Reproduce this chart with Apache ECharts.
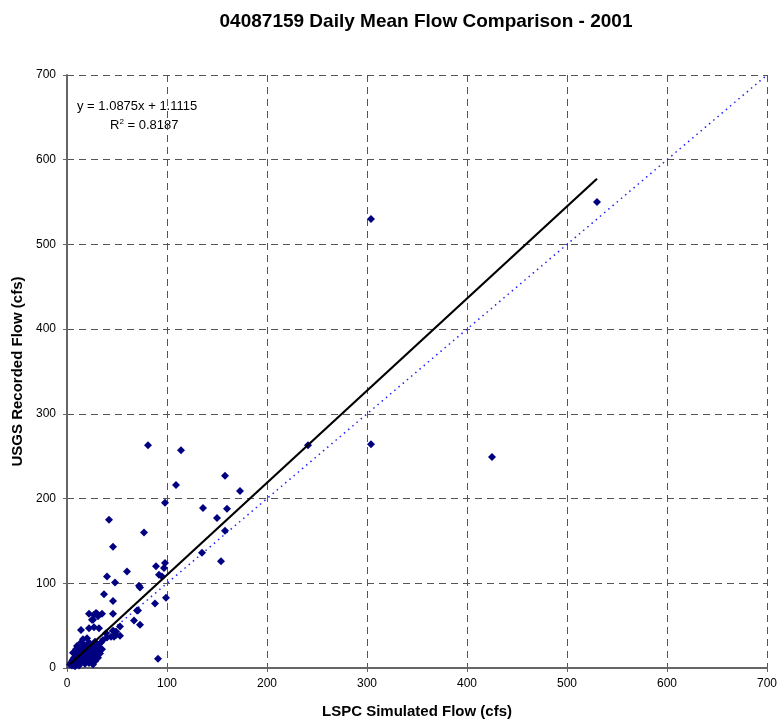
<!DOCTYPE html>
<html>
<head>
<meta charset="utf-8">
<script src="https://cdn.jsdelivr.net/npm/echarts@6/dist/echarts.min.js"></script>
<style>
  html, body { margin: 0; padding: 0; background: #fff; }
  #chart { width: 781px; height: 725px; }
</style>
</head>
<body>
<div id="chart"></div>
<script>
// Daily mean flow pairs: [LSPC simulated (cfs), USGS recorded (cfs)]
const lowFlowPairs = [
  [3,4],[4,6],[5,3],[5,8],[6,5],[6,10],[7,7],[7,12],[8,4],[8,9],[9,6],[9,14],
  [10,8],[10,11],[10,18],[11,5],[11,13],[12,9],[12,16],[12,22],[13,7],[13,11],
  [14,14],[14,19],[15,9],[15,25],[16,12],[16,17],[17,8],[17,21],[18,14],[18,27],
  [19,10],[19,18],[20,15],[20,24],[21,8],[21,12],[22,19],[22,30],[23,11],[23,16],
  [24,22],[24,9],[25,14],[25,26],[26,18],[27,12],[27,23],[28,8],[28,31],[29,15],
  [30,20],[30,27],[31,12],[32,24],[33,17],[34,30],[35,22],[36,33],[8,2],[12,3],
  [18,5],[22,6],[26,4],[10,26],[14,30],[16,34],[20,35],[6,18],[9,22]
];
const midFlowPairs = [
  [14,45],[22,47],[27,48],[32,47],[39,41],[49,43],[44,37],[49,39],[40,36],[46,44],
  [47,37],[53,38],[53,49],[26,57],[25,57],[22,64],[27,63],[31,61],[29,65],[35,64],
  [46,64],[30,64],[67,56],[73,51],[71,68],[70,68],[88,76],[99,83],[91,11],[46,79],
  [37,87],[48,101],[40,108],[60,114],[73,95],[72,97],[89,120],[98,124],[97,118],
  [92,110],[95,108],[42,175],[46,143],[77,160],[135,136],[154,126],[158,162],
  [150,177],[160,188],[136,189],[98,195],[109,216],[173,209],[158,227],[81,263],
  [114,257]
];
const highFlowPairs = [
  [241,263],[304,264],[425,249],[304,530],[530,550]
];

// Linear fit reported for the data set
const fitSlope = 1.0875;
const fitIntercept = 1.1115;
const fitR2 = 0.8187;
const fitRange = [3, 530];

const axisTicks = [0, 100, 200, 300, 400, 500, 600, 700];

const allPairs = lowFlowPairs.concat(midFlowPairs, highFlowPairs);
const fitLine = fitRange.map(x => [x, fitSlope * x + fitIntercept]);
const lo = axisTicks[0], hi = axisTicks[axisTicks.length - 1];
const unityLine = [[lo, lo], [hi, hi]];

const chart = echarts.init(document.getElementById('chart'), null, { renderer: 'canvas' });

const font = 'Liberation Sans, Arial, sans-serif';
const gridLine = { show: true, lineStyle: { color: '#555', type: [7, 5], width: 1 } };

chart.setOption({
  animation: false,
  backgroundColor: '#fff',
  title: {
    text: '04087159 Daily Mean Flow Comparison - 2001',
    left: 421, top: 7, textAlign: 'center',
    textStyle: { fontFamily: font, fontSize: 19, fontWeight: 'bold', color: '#000' }
  },
  grid: { left: 67, right: 14, top: 75, bottom: 57 },
  xAxis: {
    type: 'value', min: lo, max: hi, interval: 100,
    name: 'LSPC Simulated Flow (cfs)', nameLocation: 'middle', nameGap: 36,
    nameTextStyle: { fontFamily: font, fontSize: 15, fontWeight: 'bold', color: '#000' },
    axisLine: { show: true, onZero: false, lineStyle: { color: '#666', width: 2 } },
    axisTick: { show: true, length: 4, lineStyle: { color: '#666' } },
    axisLabel: { fontFamily: font, fontSize: 12, color: '#000', margin: 10 },
    splitLine: gridLine
  },
  yAxis: {
    type: 'value', min: lo, max: hi, interval: 100,
    name: 'USGS Recorded Flow (cfs)', nameLocation: 'middle', nameGap: 36,
    nameTextStyle: { fontFamily: font, fontSize: 15, fontWeight: 'bold', color: '#000' },
    axisLine: { show: true, onZero: false, lineStyle: { color: '#666', width: 2 } },
    axisTick: { show: true, length: 4, lineStyle: { color: '#666' } },
    axisLabel: { fontFamily: font, fontSize: 12, color: '#000', margin: 11 },
    splitLine: gridLine
  },
  graphic: [{
    type: 'text', left: 77, top: 100,
    style: {
      text: 'y = ' + fitSlope.toFixed(4) + 'x + ' + fitIntercept.toFixed(4),
      font: '13px ' + font, fill: '#000'
    }
  }, {
    type: 'text', left: 110, top: 118,
    style: {
      rich: {
        b: { fontFamily: font, fontSize: 13, color: '#000' },
        s: { fontFamily: font, fontSize: 8, color: '#000', verticalAlign: 'top', padding: [0, 0, 6, 0] }
      },
      text: '{b|R}{s|2}{b| = ' + fitR2.toFixed(4) + '}'
    }
  }],
  series: [{
    type: 'line', data: unityLine, symbol: 'none', silent: true, z: 2,
    lineStyle: { color: '#2020ff', width: 1.5, type: [1.5, 4] }
  }, {
    type: 'scatter', data: allPairs, symbol: 'diamond', symbolSize: 8, z: 3,
    itemStyle: { color: '#000080', opacity: 1 }
  }, {
    type: 'line', data: fitLine, symbol: 'none', silent: true, z: 4,
    lineStyle: { color: '#000', width: 2.2 }
  }]
});
</script>
</body>
</html>
